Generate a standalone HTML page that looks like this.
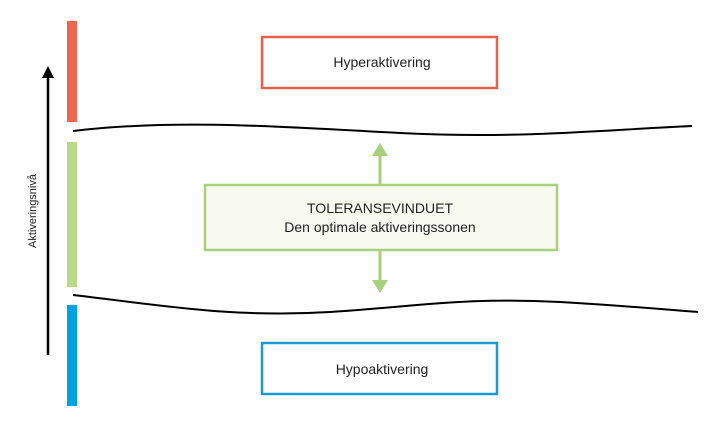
<!DOCTYPE html>
<html><head><style>
body{margin:0;background:#fff;width:719px;height:425px;overflow:hidden}
svg text{font-family:"Liberation Sans",sans-serif;fill:#222}
</style></head><body>
<svg width="719" height="425" viewBox="0 0 719 425">
<rect x="67" y="21" width="10" height="101" fill="#ec6650"/>
<rect x="67" y="142" width="10" height="145" fill="#bad88a"/>
<rect x="67" y="305" width="10" height="101" fill="#00a3e0"/>
<line x1="48" y1="355" x2="48" y2="76" stroke="#000" stroke-width="2.5"/>
<polygon points="48,66 42,78 54,78" fill="#000"/>
<text transform="translate(36,211) rotate(-90)" text-anchor="middle" font-size="11">Aktiveringsnivå</text>
<path d="M73,131 C180,118 300,128 400,133 C520,139 600,130 692,126" fill="none" stroke="#000" stroke-width="2"/>
<path d="M73,295 C160,305 230,318 330,312 C420,306 470,297 560,302 C630,306 670,310 698,312" fill="none" stroke="#000" stroke-width="2"/>
<rect x="262" y="37" width="235" height="51" fill="#fff" stroke="#e8604c" stroke-width="2.5"/>
<text x="382" y="67" text-anchor="middle" font-size="14">Hyperaktivering</text>
<rect x="262" y="343" width="235" height="51" fill="#fff" stroke="#1a9ad6" stroke-width="2.5"/>
<text x="382" y="374" text-anchor="middle" font-size="14">Hypoaktivering</text>
<line x1="380" y1="153" x2="380" y2="185" stroke="#a9d07a" stroke-width="3"/>
<polygon points="380,143 372,156 388,156" fill="#a9d07a"/>
<line x1="380" y1="250" x2="380" y2="283" stroke="#a9d07a" stroke-width="3"/>
<polygon points="380,293 372,280 388,280" fill="#a9d07a"/>
<rect x="205" y="185" width="352" height="65" fill="#f8faf2" stroke="#a9d07a" stroke-width="2.5"/>
<text x="380" y="213" text-anchor="middle" font-size="14">TOLERANSEVINDUET</text>
<text x="380" y="232" text-anchor="middle" font-size="14">Den optimale aktiveringssonen</text>
</svg>
</body></html>
